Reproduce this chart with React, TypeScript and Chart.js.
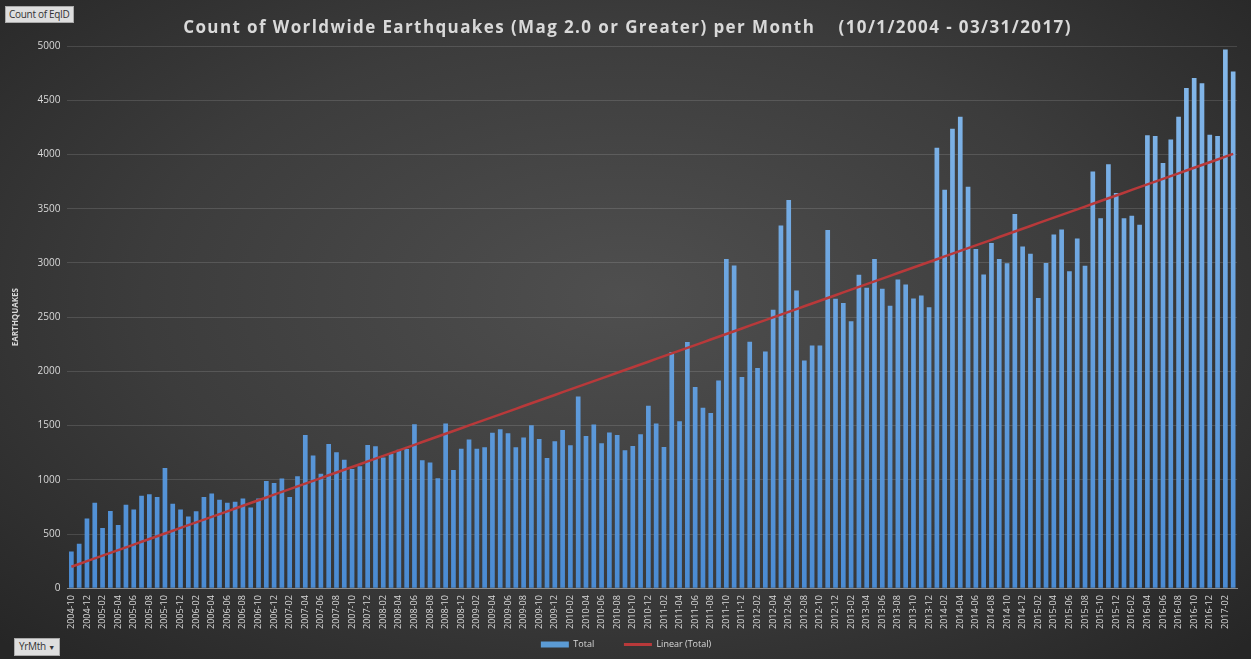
import React, { useEffect, useRef } from 'react';
import { Chart, registerables } from 'chart.js';
Chart.register(...registerables);

// Monthly counts of EqID (Mag 2.0+), Oct 2004 – Mar 2017
const total2004 = [339, 409, 642]; // Oct–Dec
const total2005 = [788, 555, 712, 582, 770, 727, 852, 867, 842, 1109, 779, 727];
const total2006 = [661, 709, 842, 873, 815, 788, 797, 827, 745, 827, 988, 970];
const total2007 = [1012, 842, 1032, 1414, 1225, 1056, 1329, 1255, 1185, 1099, 1124, 1320];
const total2008 = [1310, 1206, 1240, 1277, 1283, 1512, 1179, 1160, 1013, 1519, 1090, 1286];
const total2009 = [1372, 1286, 1301, 1433, 1467, 1430, 1301, 1390, 1503, 1375, 1200, 1355];
const total2010 = [1458, 1318, 1767, 1403, 1509, 1336, 1436, 1412, 1273, 1312, 1421, 1682];
const total2011 = [1518, 1303, 2179, 1539, 2270, 1855, 1664, 1615, 1915, 3035, 2976, 1948];
const total2012 = [2273, 2030, 2182, 2567, 3344, 3580, 2745, 2101, 2239, 2239, 3304, 2669];
const total2013 = [2629, 2463, 2890, 2770, 3037, 2761, 2604, 2847, 2801, 2672, 2699, 2592];
const total2014 = [4062, 3675, 4237, 4347, 3703, 3129, 2893, 3184, 3037, 2997, 3451, 3151];
const total2015 = [3084, 2676, 3000, 3261, 3308, 2923, 3224, 2973, 3843, 3411, 3910, 3645];
const total2016 = [3411, 3435, 3351, 4177, 4171, 3920, 4137, 4348, 4612, 4706, 4656, 4181];
const total2017 = [4171, 4967, 4766]; // Jan–Mar

const years = [2004, 2005, 2006, 2007, 2008, 2009, 2010, 2011, 2012, 2013, 2014, 2015, 2016, 2017];
const yearTotals = [total2004, total2005, total2006, total2007, total2008, total2009, total2010,
  total2011, total2012, total2013, total2014, total2015, total2016, total2017];
const firstMonth = [10, 1, 1, 1, 1, 1, 1, 1, 1, 1, 1, 1, 1, 1];

const yTicks = [0, 500, 1000, 1500, 2000, 2500, 3000, 3500, 4000, 4500, 5000];

const TITLE = 'Count of Worldwide Earthquakes (Mag 2.0 or Greater) per Month\u00a0\u00a0\u00a0\u00a0(10/1/2004 - 03/31/2017)';

const labels: string[] = [];
const totals: number[] = [];
years.forEach((y, yi) => {
  yearTotals[yi].forEach((v, mi) => {
    const m = firstMonth[yi] + mi;
    labels.push(`${y}-${m < 10 ? '0' + m : m}`);
    totals.push(v);
  });
});

// Least-squares linear trend (like Excel's "Linear (Total)")
function linearTrend(vals: number[]): number[] {
  const n = vals.length;
  let sx = 0, sy = 0, sxy = 0, sxx = 0;
  vals.forEach((v, i) => { const x = i + 1; sx += x; sy += v; sxy += x * v; sxx += x * x; });
  const b = (n * sxy - sx * sy) / (n * sxx - sx * sx);
  const a = (sy - b * sx) / n;
  return vals.map((_, i) => a + b * (i + 1));
}
const trend = linearTrend(totals);

const FONT = 'Open Sans, Noto Sans, sans-serif';
const TEXT = '#d9d9d9';

export default function App() {
  const ref = useRef<HTMLCanvasElement>(null);
  useEffect(() => {
    document.body.style.margin = '0';
    const chart = new Chart(ref.current!, {
      type: 'bar',
      data: {
        labels,
        datasets: [
          {
            type: 'bar',
            label: 'Total',
            data: totals,
            order: 1,
            barPercentage: 0.6,
            categoryPercentage: 1.0,
            backgroundColor: (ctx: any) => {
              const { chart } = ctx;
              const area = chart.chartArea;
              if (!area) return '#5b9bd5';
              const g = chart.ctx.createLinearGradient(0, area.top, 0, area.bottom);
              g.addColorStop(0, '#86b9ea');
              g.addColorStop(1, '#4a8bd3');
              return g;
            },
          },
          {
            type: 'line',
            label: 'Linear (Total)',
            data: trend,
            order: 0,
            borderColor: '#b8393a',
            borderWidth: 2.5,
            pointRadius: 0,
            fill: false,
          },
        ],
      } as any,
      options: {
        responsive: false,
        animation: false,
        layout: { padding: { left: 11, right: 10, top: 46, bottom: 0 } },
        plugins: {
          title: { display: false },
          legend: {
            position: 'bottom',
            labels: {
              color: TEXT,
              font: { family: FONT, size: 9 },
              usePointStyle: true,
              pointStyleWidth: 28,
              boxHeight: 6,
              padding: 4,
              generateLabels: () => [
                { text: 'Total\u00a0\u00a0\u00a0\u00a0\u00a0\u00a0\u00a0\u00a0\u00a0\u00a0\u00a0', fillStyle: '#5b9bd5', strokeStyle: '#5b9bd5', lineWidth: 0, pointStyle: 'rect', fontColor: TEXT, datasetIndex: 0, hidden: false } as any,
                { text: 'Linear (Total)', fillStyle: '#b8393a', strokeStyle: '#b8393a', lineWidth: 3, pointStyle: 'line', fontColor: TEXT, datasetIndex: 1, hidden: false } as any,
              ],
            },
          },
          tooltip: { enabled: false },
        },
        scales: {
          x: {
            grid: { display: false, drawTicks: false },
            border: { color: '#8c8c8c' },
            ticks: {
              autoSkip: false,
              maxRotation: 90,
              minRotation: 90,
              color: TEXT,
              padding: 7,
              font: { family: FONT, size: 9 },
              callback: (_v: any, i: number) => (i % 2 === 0 ? labels[i] : ''),
            },
          },
          y: {
            min: 0,
            max: 5000,
            afterBuildTicks: (axis: any) => { axis.ticks = yTicks.map((v) => ({ value: v })); },
            grid: { color: 'rgba(255,255,255,0.13)', drawTicks: false },
            border: { display: false },
            ticks: {
              color: TEXT,
              padding: 7,
              font: { family: FONT, size: 10 },
              callback: (v: any) => String(v),
            },
            title: {
              display: true,
              text: 'EARTHQUAKES',
              color: TEXT,
              font: { family: FONT, size: 8, weight: 'bold' },
              padding: { top: 0, bottom: 10 },
            },
          },
        },
      } as any,
    });
    return () => chart.destroy();
  }, []);

  const btn: React.CSSProperties = {
    position: 'absolute',
    background: '#dedede',
    border: '1px solid #a9a9a9',
    color: '#333',
    fontFamily: FONT,
    fontSize: 10,
    lineHeight: '15px',
    padding: '0 3px',
    whiteSpace: 'nowrap',
    letterSpacing: '-0.3px',
  };

  return (
    <div
      style={{
        position: 'relative',
        width: 1251,
        height: 659,
        overflow: 'hidden',
        background: 'radial-gradient(ellipse 70% 75% at 50% 45%, #4f4f4f 0%, #3c3c3c 55%, #262626 100%)',
      }}
    >
      <canvas ref={ref} width={1251} height={659} style={{ display: 'block' }} />
      <div
        style={{
          position: 'absolute',
          left: 0,
          width: 1251,
          top: 16,
          textAlign: 'center',
          color: TEXT,
          fontFamily: FONT,
          fontWeight: 'bold',
          fontSize: 17,
          lineHeight: '22px',
          letterSpacing: '1.4px',
          whiteSpace: 'pre',
          paddingLeft: 2,
        }}
      >
        {TITLE}
      </div>
      <div style={{ ...btn, left: 5, top: 6 }}>Count of EqID</div>
      <div style={{ ...btn, left: 14, top: 638, padding: '0 4px' }}>YrMth <span style={{ fontSize: 7 }}>▼</span></div>
    </div>
  );
}
